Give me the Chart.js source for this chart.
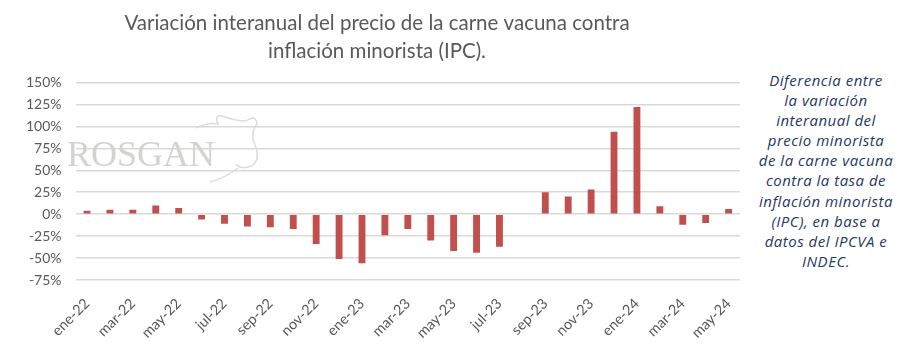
<!DOCTYPE html>
<html>
<head>
<meta charset="utf-8">
<script src="https://cdn.jsdelivr.net/npm/chart.js@4"></script>
<style>
  body { margin: 0; background: #fff; }
  #wrap { position: absolute; left: 0; top: 0; width: 748px; height: 351px; }
  #note {
    position: absolute; left: 751px; top: 70px; width: 150px;
    text-align: center; font-family: "Open Sans", sans-serif; font-style: italic;
    font-size: 15px; line-height: 20.1px; letter-spacing: 0.5px; color: #1f3864;
  }
</style>
</head>
<body>
<div id="wrap"><canvas id="chart"></canvas></div>
<div id="note">Diferencia entre<br>la variación<br>interanual del<br>precio minorista<br>de la carne vacuna<br>contra la tasa de<br>inflación minorista<br>(IPC), en base a<br>datos del IPCVA e<br>INDEC.</div>
<script>
const months = ["ene-22","feb-22","mar-22","abr-22","may-22","jun-22","jul-22","ago-22","sep-22","oct-22","nov-22","dic-22",
  "ene-23","feb-23","mar-23","abr-23","may-23","jun-23","jul-23","ago-23","sep-23","oct-23","nov-23","dic-23",
  "ene-24","feb-24","mar-24","abr-24","may-24"];
const diff = [4, 5, 5, 10, 7, -6, -11, -14, -15, -17, -34, -51,
  -56, -24, -17, -30, -42, -44, -37, null, 25, 20, 28, 94,
  122, 9, -12, -10, 6];
const yTicks = [-75, -50, -25, 0, 25, 50, 75, 100, 125, 150];

const gray = "#595959";

// faint logo behind the bars
const watermark = {
  id: "watermark",
  beforeDatasetsDraw(chart) {
    const c = chart.ctx;
    c.save();
    c.fillStyle = "#d3d3cf";
    c.font = "36px 'Liberation Serif', serif";
    c.fillText("ROSGAN", 67, 166);
    // rough cow head outline
    c.strokeStyle = "#dcdcd8";
    c.lineWidth = 1.5;
    c.beginPath();
    c.moveTo(196, 128);
    c.quadraticCurveTo(208, 122, 218, 124);
    c.quadraticCurveTo(214, 114, 222, 116);
    c.quadraticCurveTo(236, 121, 246, 121);
    c.quadraticCurveTo(256, 114, 257, 124);
    c.quadraticCurveTo(252, 130, 253, 140);
    c.quadraticCurveTo(262, 158, 252, 166);
    c.quadraticCurveTo(240, 170, 236, 164);
    c.moveTo(238, 168);
    c.quadraticCurveTo(225, 178, 210, 182);
    c.stroke();
    c.restore();
  }
};

new Chart(document.getElementById("chart"), {
  type: "bar",
  data: {
    labels: months,
    datasets: [{
      data: diff,
      backgroundColor: "#c0504d",
      barPercentage: 0.6,
      categoryPercentage: 0.5
    }]
  },
  options: {
    responsive: true,
    maintainAspectRatio: false,
    animation: false,
    layout: { padding: { left: 12, right: 6, top: 10, bottom: 6 } },
    plugins: {
      legend: { display: false },
      tooltip: { enabled: false },
      title: {
        display: true,
        text: ["Variación interanual del precio de la carne vacuna contra", "inflación minorista (IPC)."],
        color: gray,
        font: { family: "Lato", size: 20.5, weight: "normal", lineHeight: 1.33 },
        padding: { top: 0, bottom: 18 }
      }
    },
    scales: {
      x: {
        grid: { display: false },
        border: { display: false },
        afterFit: (axis) => { axis.height = 65; },
        ticks: {
          color: gray,
          padding: 7,
          font: { family: "Lato", size: 14.5 },
          autoSkip: false,
          maxRotation: 45,
          minRotation: 45,
          callback: (v, i) => (i % 2 === 0 ? months[i] : "")
        }
      },
      y: {
        min: -75,
        max: 150,
        afterBuildTicks: (axis) => { axis.ticks = yTicks.map(v => ({ value: v })); },
        grid: { color: "#d9d9d9", lineWidth: 1.5, drawTicks: false },
        border: { display: false },
        ticks: {
          color: gray,
          padding: 14,
          font: { family: "Lato", size: 14 },
          callback: (v) => v + "%"
        }
      }
    }
  },
  plugins: [watermark]
});
</script>
</body>
</html>
